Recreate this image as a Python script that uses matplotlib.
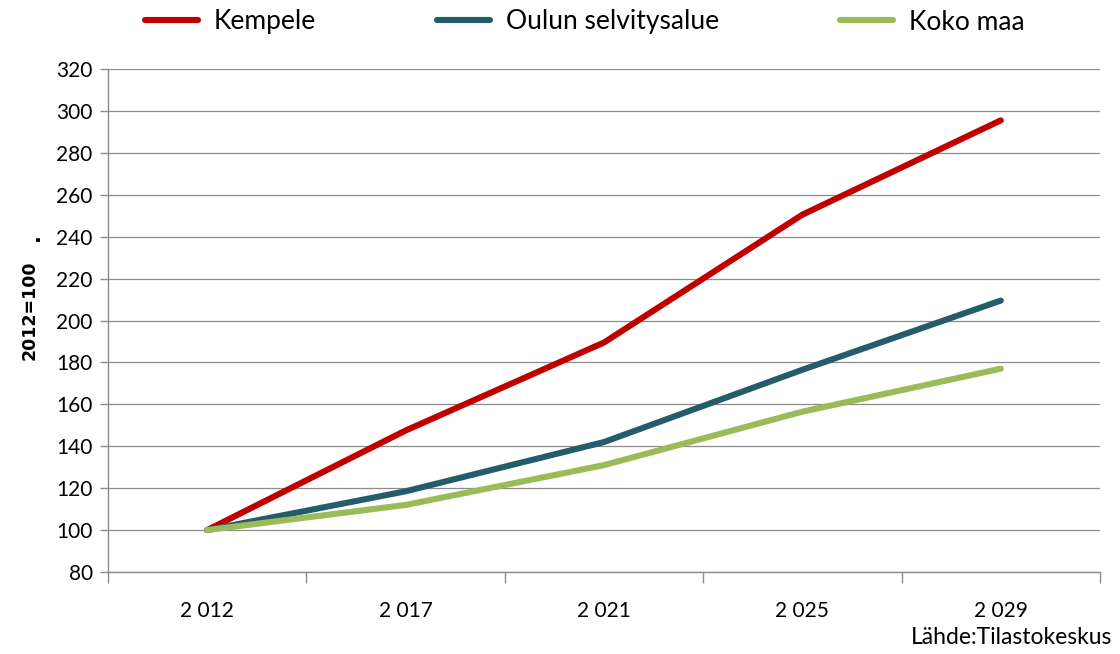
import matplotlib.pyplot as plt
import numpy as np

# Data (2012 = 100)
years = ['2 012', '2 017', '2 021', '2 025', '2 029']
kempele = [100, 147.5, 189.5, 250.5, 295.5]
oulu = [100, 118.5, 142, 176.5, 209.5]
koko_maa = [100, 112, 131, 156.5, 177]

series = [
    ('Kempele', kempele, '#C00000'),
    ('Oulun selvitysalue', oulu, '#245D69'),
    ('Koko maa', koko_maa, '#9BBB59'),
]

font = ['Lato', 'DejaVu Sans']

fig = plt.figure(figsize=(11.2, 6.54), dpi=100)
ax = fig.add_axes([108 / 1120, 1 - 572 / 654, (1100 - 108) / 1120, (572 - 69) / 654])

x = np.arange(len(years))
for name, vals, col in series:
    ax.plot(x, vals, color=col, lw=4.4, label=name, solid_capstyle='round',
            solid_joinstyle='round', zorder=3)

ax.set_xlim(-0.5, len(years) - 0.5)
ax.set_ylim(80, 320)
ax.set_yticks(np.arange(80, 321, 20))
ax.yaxis.grid(True, color='#8C8C8C', lw=0.9)
ax.set_axisbelow(True)

ax.set_xticks(x)
ax.set_xticklabels(years, fontsize=15, family=font)
ax.set_xticks(np.arange(-0.5, len(years), 1), minor=True)
ax.tick_params(axis='x', which='major', length=0, pad=21)
ax.tick_params(axis='x', which='minor', length=8, width=1, color='#8C8C8C', direction='out')
ax.tick_params(axis='y', length=6, width=1, color='#8C8C8C', labelsize=15, pad=5)
for lab in ax.get_yticklabels():
    lab.set_family(font)

for side in ['top', 'right']:
    ax.spines[side].set_visible(False)
for side in ['left', 'bottom']:
    ax.spines[side].set_color('#8C8C8C')
    ax.spines[side].set_linewidth(1)

fig.text(30 / 1120, 1 - 310 / 654, '2012=100', rotation=90, fontsize=12.5,
         fontweight='bold', ha='center', va='center', family='DejaVu Sans')
fig.text(33 / 1120, 1 - 237 / 654, '.', rotation=90, fontsize=15,
         fontweight='bold', ha='center', va='center', family='DejaVu Sans')

leg = fig.legend(loc='center', bbox_to_anchor=(0.522, 1 - 22 / 654), ncol=3,
                 frameon=False, handlelength=2.0, handletextpad=0.6,
                 columnspacing=4.6, prop={'family': font, 'size': 19})

fig.text(1112 / 1120, 1 - 638 / 654, 'Lähde:Tilastokeskus', ha='right', va='center',
         fontsize=16.5, family=font)

fig.savefig('out.png', dpi=100)
